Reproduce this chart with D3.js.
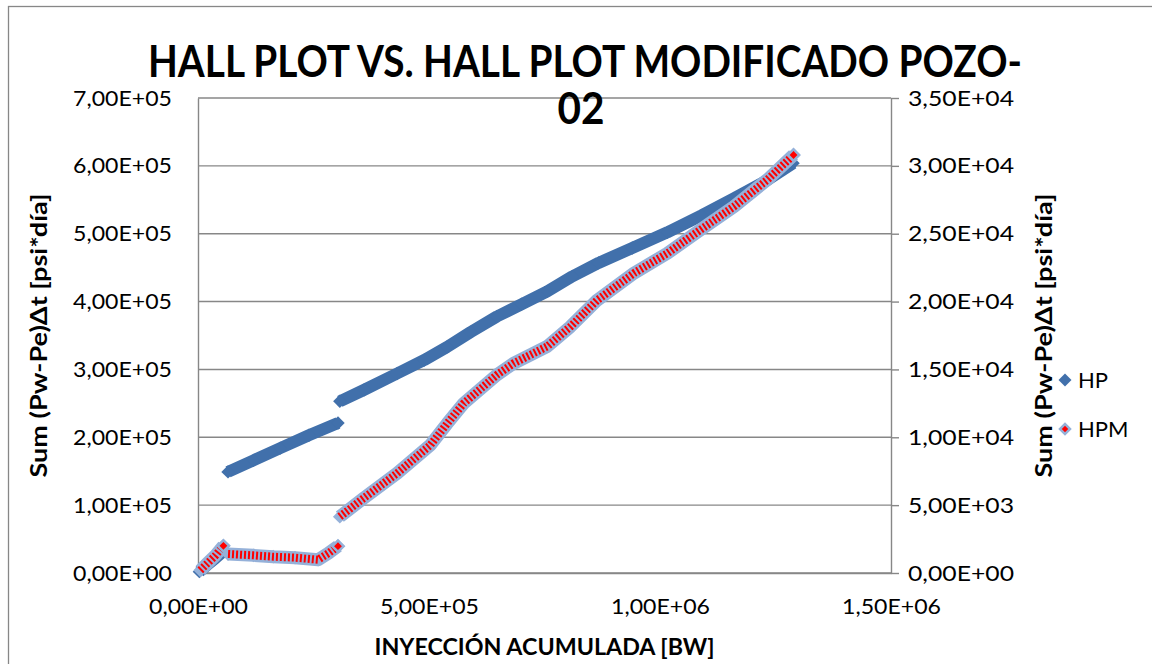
<!DOCTYPE html>
<html>
<head>
<meta charset="utf-8">
<script src="https://cdn.jsdelivr.net/npm/d3@7"></script>
<style>
  body { margin: 0; background: #fff; }
  text { font-family: Lato, "Open Sans", sans-serif; }
</style>
</head>
<body>
<div id="chart"></div>
<script>
// values; null = gap between runs of points
var hpX = [3e3, 2e4, 3.8e4, 5.5e4, null,
  6.5e4, 1.2e5, 1.78e5, 2.4e5, 3.03e5, null,
  3.07e5, 3.6e5, 4.31e5, 4.9e5, 5.39e5, 5.9e5, 6.47e5, 7.0e5, 7.56e5, 8.1e5,
  8.67e5, 9.4e5, 1.016e6, 1.09e6, 1.16e6, 1.23e6, 1.288e6];
var hpY = [2e3, 1.2e4, 2.2e4, 3.2e4, null,
  1.49e5, 1.66e5, 1.84e5, 2.03e5, 2.21e5, null,
  2.53e5, 2.70e5, 2.94e5, 3.14e5, 3.33e5, 3.55e5, 3.78e5, 3.96e5, 4.15e5, 4.37e5,
  4.57e5, 4.79e5, 5.02e5, 5.27e5, 5.52e5, 5.78e5, 6.04e5];

var hpmX = [5e3, 2e4, 3.8e4, 5.5e4, null,
  6.5e4, 1.2e5, 1.63e5, 2.1e5, 2.6e5, 2.82e5, 3.03e5, null,
  3.07e5, 3.58e5, 4.31e5, 5.03e5, 5.39e5, 5.75e5, 6.47e5, 6.83e5, 7.56e5, 8.06e5,
  8.64e5, 9.44e5, 1.016e6, 1.088e6, 1.16e6, 1.233e6, 1.289e6];
var hpmY = [2e2, 7e2, 1.3e3, 2.0e3, null,
  1.4e3, 1.3e3, 1.2e3, 1.13e3, 0.98e3, 1.45e3, 1.98e3, null,
  4.15e3, 5.5e3, 7.35e3, 9.43e3, 1.10e4, 1.25e4, 1.46e4, 1.545e4, 1.67e4, 1.815e4,
  2.01e4, 2.21e4, 2.356e4, 2.53e4, 2.70e4, 2.90e4, 3.08e4];

var xTicks = [0, 5e5, 1e6, 1.5e6];
var leftTicks = [0, 1e5, 2e5, 3e5, 4e5, 5e5, 6e5, 7e5];
var rightTicks = [0, 5e3, 1e4, 1.5e4, 2e4, 2.5e4, 3e4, 3.5e4];
var seriesNames = ["HP", "HPM"];

var width = 1152, height = 664;
var plot = { left: 198, right: 891, top: 98, bottom: 573 };
var grey = "#878787", blue = "#4170AB", lightBlue = "#95B1D9", red = "#FF0000";

function fmtE(v) {
  if (v === 0) return "0,00E+00";
  var e = Math.floor(Math.log10(v));
  var m = v / Math.pow(10, e);
  return m.toFixed(2).replace(".", ",") + "E+" + (e < 10 ? "0" : "") + e;
}

function segments(xs, ys) {
  var out = [], cur = [];
  xs.forEach(function (d, i) {
    if (d === null) { out.push(cur); cur = []; }
    else cur.push([d, ys[i]]);
  });
  out.push(cur);
  return out;
}

var svg = d3.select("#chart").append("svg")
  .attr("width", width).attr("height", height);

svg.append("rect")
  .attr("x", 8.5).attr("y", 6.5).attr("width", 1200).attr("height", 700)
  .attr("fill", "none").attr("stroke", grey).attr("stroke-width", 1.3);

var x = d3.scaleLinear().domain([0, 1.5e6]).range([plot.left, plot.right]);
var yL = d3.scaleLinear().domain([0, 7e5]).range([plot.bottom, plot.top]);
var yR = d3.scaleLinear().domain([0, 3.5e4]).range([plot.bottom, plot.top]);

// grid
svg.append("g").selectAll("line").data(leftTicks).enter().append("line")
  .attr("x1", plot.left).attr("x2", plot.right)
  .attr("y1", function (d) { return yL(d); }).attr("y2", function (d) { return yL(d); })
  .attr("stroke", grey).attr("stroke-width", 1.4);

var axisStyle = function (len) {
  return function (g) {
    g.select(".domain").attr("stroke", grey).attr("stroke-width", 1.4);
    g.selectAll(".tick line").attr("stroke", grey).attr("stroke-width", 1.4);
    g.selectAll(".tick text").style("font-size", "22px").attr("fill", "#000")
      .attr("textLength", len).attr("lengthAdjust", "spacingAndGlyphs");
  };
};

svg.append("g")
  .attr("transform", "translate(" + plot.left + ",0)")
  .call(d3.axisLeft(yL).tickValues(leftTicks).tickSize(0).tickPadding(26).tickFormat(fmtE))
  .call(axisStyle(99));

svg.append("g")
  .attr("transform", "translate(" + plot.right + ",0)")
  .call(d3.axisRight(yR).tickValues(rightTicks).tickSize(8).tickSizeOuter(0).tickPadding(9).tickFormat(fmtE))
  .call(axisStyle(106));

svg.append("g")
  .attr("transform", "translate(0," + plot.bottom + ")")
  .call(d3.axisBottom(x).tickValues(xTicks).tickSize(0).tickPadding(25).tickFormat(fmtE))
  .call(axisStyle(99));

// series
var diamond = d3.symbol().type(d3.symbolSquare);

var lineL = d3.line().x(function (d) { return x(d[0]); }).y(function (d) { return yL(d[1]); });
var lineR = d3.line().x(function (d) { return x(d[0]); }).y(function (d) { return yR(d[1]); });

var hpSegs = segments(hpX, hpY);
var gHp = svg.append("g");
gHp.selectAll("path.band").data(hpSegs).enter().append("path")
  .attr("d", lineL).attr("fill", "none").attr("stroke", blue)
  .attr("stroke-width", 12).attr("stroke-linejoin", "round");
gHp.selectAll("path.pt").data(d3.merge(hpSegs)).enter().append("path")
  .attr("d", diamond.size(90))
  .attr("transform", function (d) { return "translate(" + x(d[0]) + "," + yL(d[1]) + ") rotate(45)"; })
  .attr("fill", blue);

var hpmSegs = segments(hpmX, hpmY);
var gHpm = svg.append("g");
gHpm.selectAll("path.pt").data(d3.merge(hpmSegs)).enter().append("path")
  .attr("d", diamond.size(95))
  .attr("transform", function (d) { return "translate(" + x(d[0]) + "," + yR(d[1]) + ") rotate(45)"; })
  .attr("fill", lightBlue);
gHpm.selectAll("path.band").data(hpmSegs).enter().append("path")
  .attr("d", lineR).attr("fill", "none").attr("stroke", lightBlue)
  .attr("stroke-width", 13).attr("stroke-linejoin", "round");
gHpm.selectAll("path.stripe").data(hpmSegs).enter().append("path")
  .attr("d", lineR).attr("fill", "none").attr("stroke", red)
  .attr("stroke-width", 8).attr("stroke-dasharray", "2 2");
gHpm.selectAll("path.end").data(hpmSegs.map(function (s) { return s[s.length - 1]; })).enter().append("path")
  .attr("d", diamond.size(64))
  .attr("transform", function (d) { return "translate(" + x(d[0]) + "," + yR(d[1]) + ") rotate(45)"; })
  .attr("fill", red).attr("stroke", lightBlue).attr("stroke-width", 2.5);

// titles
svg.append("text").attr("x", 585).attr("y", 77).attr("text-anchor", "middle")
  .attr("textLength", 874).attr("lengthAdjust", "spacingAndGlyphs")
  .style("font-size", "43px").style("font-weight", "bold")
  .text("HALL PLOT VS. HALL PLOT MODIFICADO POZO-");
svg.append("text").attr("x", 581).attr("y", 124).attr("text-anchor", "middle")
  .style("font-size", "43px").style("font-weight", "bold")
  .attr("textLength", 47).attr("lengthAdjust", "spacingAndGlyphs")
  .text("02");

svg.append("text").attr("x", (plot.left + plot.right) / 2).attr("y", 655)
  .attr("text-anchor", "middle").style("font-size", "22px").style("font-weight", "bold")
  .attr("textLength", 340).attr("lengthAdjust", "spacingAndGlyphs")
  .text("INYECCIÓN ACUMULADA [BW]");

var yTitle = "Sum (Pw-Pe)\u0394t [psi*día]";
[47, 1052].forEach(function (cx) {
  svg.append("text")
    .attr("transform", "translate(" + cx + "," + (plot.top + plot.bottom) / 2 + ") rotate(-90)")
    .attr("text-anchor", "middle").style("font-size", "22px").style("font-weight", "bold")
    .attr("textLength", 284).attr("lengthAdjust", "spacingAndGlyphs")
    .text(yTitle);
});

// legend
var legend = svg.append("g").attr("transform", "translate(1065,380)");
legend.selectAll("path").data(seriesNames).enter().append("path")
  .attr("d", function (d, i) { return diamond.size(i ? 50 : 85)(); })
  .attr("transform", function (d, i) { return "translate(0," + i * 49 + ") rotate(45)"; })
  .attr("fill", function (d, i) { return i ? red : blue; })
  .attr("stroke", function (d, i) { return i ? lightBlue : "none"; })
  .attr("stroke-width", 2.5);
legend.selectAll("text").data(seriesNames).enter().append("text")
  .attr("x", 13).attr("y", function (d, i) { return i * 49 + 8; })
  .style("font-size", "22px").text(function (d) { return d; });
</script>
</body>
</html>
